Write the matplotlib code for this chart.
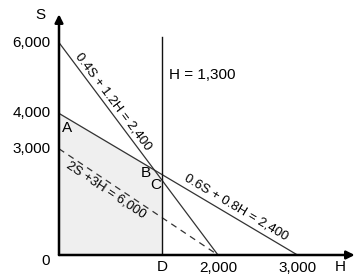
import matplotlib
matplotlib.use('Agg')
import matplotlib.pyplot as plt
import numpy as np

plt.rcParams['font.family'] = ['Liberation Sans', 'DejaVu Sans']

# Restricciones: intersecciones con los ejes (H, S)
linea1_H = [0, 2000]   # 0.4S + 1.2H = 2,400
linea1_S = [6000, 0]
linea2_H = [0, 3000]   # 0.6S + 0.8H = 2,400
linea2_S = [4000, 0]
iso_H = [0, 2000]      # 2S + 3H = 6,000
iso_S = [3000, 0]
H_max = 1300
H_max_top = 6150

# Región factible (O, A, B, C, D)
region_H = [0, 0, 1200, 1300, 1300]
region_S = [0, 4000, 2400, 2100, 0]

y_ticks = [6000, 4000, 3000]
y_labels = ['6,000', '4,000', '3,000']
x_ticks = [2000, 3000]
x_labels = ['2,000', '3,000']

fig = plt.figure(figsize=(3.59, 2.78), dpi=100)
ax = fig.add_axes([59 / 359, 23 / 278, 300 / 359, 255 / 278])
ax.set_xlim(0, 3774)
ax.set_ylim(0, 7203)
ax.axis('off')

ax.fill(region_H, region_S, color='#efefef', zorder=0)
ax.plot(linea1_H, linea1_S, color='#333333', lw=0.9)
ax.plot(linea2_H, linea2_S, color='#333333', lw=0.9)
ax.plot(iso_H, iso_S, color='#333333', lw=0.9, ls=(0, (5, 4)))
ax.plot([H_max, H_max], [0, H_max_top], color='#111111', lw=1.0)

# Ejes con flechas
ax.annotate('', xy=(3720, 0), xytext=(0, 0),
            arrowprops=dict(arrowstyle='-|>', color='black', lw=1.8, mutation_scale=12, shrinkA=0, shrinkB=0))
ax.annotate('', xy=(0, 6800), xytext=(0, 0),
            arrowprops=dict(arrowstyle='-|>', color='black', lw=1.8, mutation_scale=12, shrinkA=0, shrinkB=0))

fs = 11
for v, t in zip(y_ticks, y_labels):
    ax.text(-110, v, t, ha='right', va='center', fontsize=fs)
for v, t in zip(x_ticks, x_labels):
    ax.text(v, -380, t, ha='center', va='center', fontsize=fs)
ax.text(-170, -180, '0', ha='center', va='center', fontsize=fs)
ax.text(H_max, -330, 'D', ha='center', va='center', fontsize=fs)
ax.text(3540, -330, 'H', ha='center', va='center', fontsize=fs)
ax.text(-240, 6780, 'S', ha='center', va='center', fontsize=fs)
ax.text(1380, 5080, 'H = 1,300', ha='left', va='center', fontsize=fs)
ax.text(40, 3580, 'A', ha='left', va='center', fontsize=fs)
ax.text(1090, 2330, 'B', ha='center', va='center', fontsize=fs)
ax.text(1150, 1980, 'C', ha='left', va='center', fontsize=fs)

fs2 = 9.5
ax.text(680, 4320, '0.4S + 1.2H = 2,400', rotation=-53, ha='center', va='center',
        fontsize=fs2, rotation_mode='anchor')
ax.text(2230, 1360, '0.6S + 0.8H = 2,400', rotation=-30.7, ha='center', va='center',
        fontsize=fs2, rotation_mode='anchor')
ax.text(590, 1840, '2S +3H = 6,000', rotation=-33.7, ha='center', va='center',
        fontsize=fs2, rotation_mode='anchor')

fig.savefig('out.png', dpi=100)
